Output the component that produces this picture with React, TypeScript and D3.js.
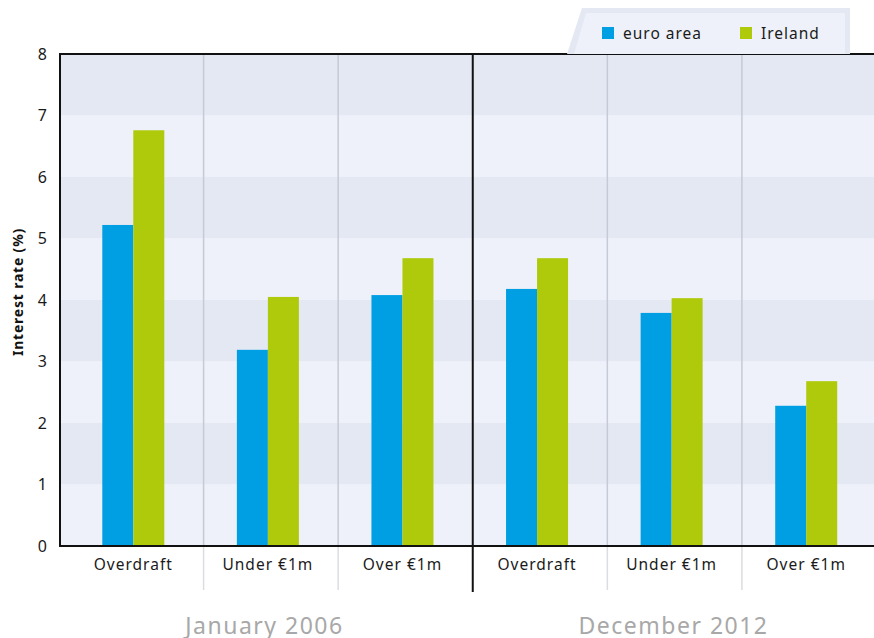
import React from "react";
import * as d3 from "d3";

const categories = ["Overdraft", "Under €1m", "Over €1m", "Overdraft", "Under €1m", "Over €1m"];
const periods = ["January 2006", "December 2012"];
const seriesNames = ["euro area", "Ireland"];
const euroArea = [5.22, 3.19, 4.08, 4.18, 3.79, 2.28];
const ireland = [6.76, 4.05, 4.68, 4.68, 4.03, 2.68];
const yTicks = [0, 1, 2, 3, 4, 5, 6, 7, 8];

const W = 874;
const H = 638;
const FONT = "'Noto Sans', 'DejaVu Sans', sans-serif";
const COLORS = ["#009fe3", "#afca0b"];

export default function App() {
  const left = 60, top = 54, bottom = 546, right = 874;
  const y = d3.scaleLinear().domain([0, 8]).range([bottom, top]);
  const idx = categories.map((_, i) => String(i));
  const x = d3.scaleBand().domain(idx).range([66, 873.5]).padding(0);
  const bw = x.bandwidth();
  const barW = 31;
  const series = [euroArea, ireland];
  const half = d3.scaleBand().domain(periods).range([left, right + 4]);

  return (
    <svg width={W} height={H} style={{ position: "absolute", left: 0, top: 0, fontFamily: FONT }}>
      <rect x={0} y={0} width={W} height={H} fill="#ffffff" />
      {yTicks.slice(0, -1).map((t) => (
        <rect key={t} x={left} width={right - left} y={y(t + 1)} height={y(t) - y(t + 1)}
          fill={t % 2 === 0 ? "#eef1f9" : "#e4e8f3"} />
      ))}
      {idx.slice(1).map((k) => (
        k === "3" ? null :
        <g key={k}>
          <line x1={x(k)! + 3} x2={x(k)! + 3} y1={top} y2={bottom} stroke="#c6cad6" strokeWidth={1.5} />
          <line x1={x(k)! + 3} x2={x(k)! + 3} y1={bottom} y2={590} stroke="#dcdde2" strokeWidth={1.5} />
        </g>
      ))}
      {series.map((s, si) =>
        s.map((v, i) => {
          const cx = x(String(i))! + bw / 2;
          return (
            <rect key={si + "-" + i} x={cx - barW + si * barW} width={barW}
              y={y(v)} height={y(0) - y(v)} fill={COLORS[si]} />
          );
        })
      )}
      <line x1={left} x2={right} y1={top} y2={top} stroke="#111" strokeWidth={2} />
      <line x1={left} x2={right} y1={bottom} y2={bottom} stroke="#111" strokeWidth={2} />
      <line x1={left} x2={left} y1={top - 1} y2={bottom + 1} stroke="#111" strokeWidth={2} />
      <line x1={x("3")! + 3} x2={x("3")! + 3} y1={top} y2={592} stroke="#111" strokeWidth={2} />
      {yTicks.map((t) => (
        <text key={t} x={47} y={y(t)} dy="0.35em" textAnchor="end" fontSize={16} fill="#1a1a1a">{t}</text>
      ))}
      <text transform={`translate(23,${(top + bottom) / 2 - 8}) rotate(-90)`} textAnchor="middle"
        fontSize={14} fontWeight="bold" letterSpacing={0.8} fill="#111">Interest rate (%)</text>
      {categories.map((c, i) => (
        <text key={i} x={x(String(i))! + bw / 2} y={570} textAnchor="middle" fontSize={15.5}
          letterSpacing={1} fill="#1a1a1a">{c}</text>
      ))}
      {periods.map((p) => (
        <text key={p} x={half(p)! + half.bandwidth() / 2} y={634} textAnchor="middle" fontSize={23}
          letterSpacing={1.5} fill="#a8a8a8">{p}</text>
      ))}
      <path d="M567,54 L582,8 L850,8 L850,54 Z" fill="#e4e8f3" />
      <path d="M574,54 L586,13 L845,13 L845,54 Z" fill="#eef1f9" />
      {seriesNames.map((n, i) => (
        <g key={n} transform={`translate(${602 + i * 138},27)`}>
          <rect width={12} height={12} fill={COLORS[i]} />
          <text x={21} y={11.5} fontSize={15.5} letterSpacing={1} fill="#1a1a1a">{n}</text>
        </g>
      ))}
    </svg>
  );
}
